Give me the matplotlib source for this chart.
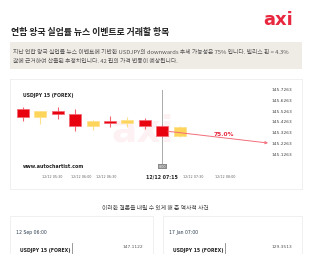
import matplotlib
matplotlib.use("Agg")
import matplotlib.pyplot as plt
import matplotlib.patches as mpatches
import matplotlib.transforms as mtransforms

plt.rcParams['font.family'] = ['Noto Sans CJK KR', 'DejaVu Sans']

# candle data (USDJPY 15 min)
opens = [145.543, 145.468, 145.518, 145.493, 145.385, 145.426, 145.410, 145.435, 145.385, 145.293]
closes = [145.468, 145.518, 145.493, 145.385, 145.426, 145.410, 145.435, 145.385, 145.293, 145.376]
highs = [145.560, 145.518, 145.560, 145.543, 145.443, 145.476, 145.468, 145.460, 145.393, 145.385]
lows = [145.426, 145.401, 145.451, 145.335, 145.343, 145.376, 145.376, 145.360, 145.285, 145.285]

price_ticks = [145.7263, 145.6263, 145.5263, 145.4263, 145.3263, 145.2263, 145.1263]
time_labels = ["12/12 05:30", "12/12 06:00", "12/12 06:30", "12/12 07:15", "12/12 07:30", "12/12 08:00"]
time_pos = [1.67, 3.33, 4.77, 7.99, 9.77, 11.6]
event_index = 8

forecast_x = [8.33, 14.08]
forecast_y = [145.3346, 145.2263]
forecast_label = "75.0%"

hist_dates = ["12 Sep 06:00", "17 Jan 07:00"]
hist_prices = ["147.1122", "129.3513"]

W, H = 309, 255
fig = plt.figure(figsize=(W / 100, H / 100), dpi=100)
fig.patch.set_facecolor("white")


def fx(px):
    return px / W


def fy(py):
    return 1 - py / H


# header
fig.text(fx(293), fy(20), "axi", color="#e8283f", fontsize=13, fontweight="bold",
         family="DejaVu Sans", ha="right", va="center")
fig.text(fx(11), fy(32), "연합 왕국 실업률 뉴스 이벤트로 거래할 항목", fontsize=6.4,
         fontweight="bold", color="#222222", ha="left", va="center")
fig.patches.append(mpatches.Rectangle((fx(10), fy(70)), fx(302) - fx(10), 27 / H,
                                      transform=fig.transFigure, facecolor="#efebe5",
                                      edgecolor="none"))
fig.text(fx(13), fy(52), "지난 연합 왕국 실업률 뉴스 이벤트에 기반한 USDJPY의 downwards 추세 가능성은 75% 입니다. 빌리스 핀 = 4.3%",
         fontsize=4.2, color="#555555", ha="left", va="center")
fig.text(fx(13), fy(61), "값에 근거하여 산출된 추정치입니다. 42 핍의 가격 변동이 예상됩니다.",
         fontsize=4.2, color="#555555", ha="left", va="center")

# main chart card
ax = fig.add_axes([fx(10), fy(190), fx(302) - fx(10), 110 / H])
ax.set_xlim(-0.747, 16.03)
ax.set_ylim(144.8013, 145.8180)
ax.set_xticks([])
ax.set_yticks([])
for s in ax.spines.values():
    s.set_color("#eeeeee")
    s.set_linewidth(0.6)

ax.text(0.455, 0.53, "axi", transform=ax.transAxes, fontsize=27, fontweight="bold",
        family="DejaVu Sans", color="#fef1f3", ha="center", va="center", zorder=0)

ax.axvline(event_index, ymin=0.227, ymax=0.9, color="#aaaaaa", linewidth=0.7, zorder=1)

xs = list(range(len(opens)))
body_col = ["#e8000e" if c < o else "#fdd55a" for o, c in zip(opens, closes)]
edge_col = ["#f26470" if c < o else "#fde08a" for o, c in zip(opens, closes)]
ax.vlines(xs, lows, highs, colors=edge_col, linewidth=0.8, zorder=2)
ax.bar(xs, [c - o for o, c in zip(opens, closes)], bottom=opens, width=0.69,
       color=body_col, edgecolor=edge_col, linewidth=0.5, zorder=3)

ax.annotate("", xy=(forecast_x[1], forecast_y[1]), xytext=(forecast_x[0], forecast_y[0]),
            arrowprops=dict(arrowstyle="->", color="#f26d7a", lw=0.7,
                            mutation_scale=4, shrinkA=0, shrinkB=0), zorder=4)
ax.text(11.56, 145.3100, forecast_label, fontsize=4.2, fontweight="bold",
        color="#e8283f", family="DejaVu Sans", ha="center", va="center", zorder=5)

ytr = mtransforms.blended_transform_factory(ax.transAxes, ax.transData)
for p in price_ticks:
    ax.text(0.897, p, f"{p:.4f}", transform=ytr, fontsize=3.2, color="#444444",
            family="DejaVu Sans", ha="left", va="center")

xtr = mtransforms.blended_transform_factory(ax.transData, ax.transAxes)
for pos, lab in zip(time_pos, time_labels):
    bold = lab.endswith("07:15")
    ax.text(pos, 0.118, lab, transform=xtr, fontsize=3.4 if bold else 2.4,
            fontweight="bold" if bold else "normal", color="#222222" if bold else "#666666",
            family="DejaVu Sans", ha="center", va="center")
ax.text(event_index, 0.205, "0:00", transform=xtr, fontsize=2.4, color="white",
        family="DejaVu Sans", ha="center", va="center",
        bbox=dict(boxstyle="square,pad=0.25", facecolor="#8a8a8a", edgecolor="none"))

ax.text(0.045, 0.86, "USDJPY 15 (FOREX)", transform=ax.transAxes, fontsize=3.3,
        fontweight="bold", color="#222222", family="DejaVu Sans", ha="left", va="center")
ax.text(0.045, 0.21, "www.autochartist.com", transform=ax.transAxes, fontsize=3.4,
        fontweight="bold", color="#222222", family="DejaVu Sans", ha="left", va="center")

# historical events
fig.text(fx(155), fy(208), "이러한 결론을 내릴 수 있게 해 준 역사적 사건", fontsize=4.2,
         color="#444444", ha="center", va="center")
for left, right, date, price in zip([10, 163], [153, 302], hist_dates, hist_prices):
    fig.patches.append(mpatches.Rectangle((fx(left), fy(260)), fx(right) - fx(left), 43 / H,
                                          transform=fig.transFigure, facecolor="white",
                                          edgecolor="#eeeeee", linewidth=0.6))
    fig.text(fx(left + 6), fy(233), date, fontsize=3.3, color="#2d3e50",
             family="DejaVu Sans", ha="left", va="center")
    fig.text(fx(left + 10), fy(251), "USDJPY 15 (FOREX)", fontsize=3.3, fontweight="bold",
             color="#222222", family="DejaVu Sans", ha="left", va="center")
    fig.lines.append(plt.Line2D([fx(left + 62), fx(left + 62)], [fy(244), fy(255)],
                                transform=fig.transFigure, color="#888888", linewidth=0.6))
    fig.text(fx(right - 10), fy(247), price, fontsize=3.2, color="#555555",
             family="DejaVu Sans", ha="right", va="center")

fig.savefig("out.png", dpi=100)
